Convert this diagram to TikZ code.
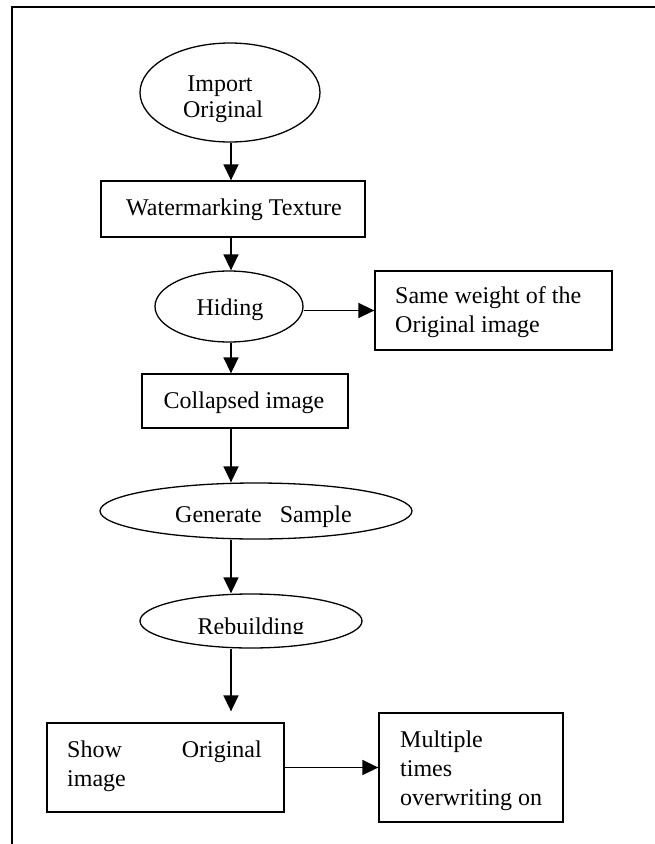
\documentclass[tikz,border=0pt]{standalone}
\usepackage{fontspec}
\setmainfont{Liberation Serif}
\usetikzlibrary{arrows.meta,shapes.geometric}
\begin{document}
\begin{tikzpicture}[x=1pt,y=-1pt,
  box/.style={draw, line width=1.3pt, inner sep=0pt},
  ell/.style={draw, ellipse, line width=1.3pt, inner sep=0pt},
  arr/.style={line width=1.6pt, -{Triangle[length=16pt,width=15pt]}},
  txt/.style={inner sep=0pt, font=\fontsize{24}{29}\selectfont}]
\useasboundingbox (0,0) rectangle (655,844);
\draw[line width=2pt] (11.5,844) -- (11.5,6.5) -- (655,6.5);
\coordinate (axis) at (231,0);
% shapes
\node[ell, minimum width=180pt, minimum height=99pt] (imp) at (230,92.5) {};
\node[box, minimum width=264pt, minimum height=56pt] (wat) at (233,209) {};
\node[ell, minimum width=148pt, minimum height=71pt] (hid) at (229,306.5) {};
\node[box, minimum width=237pt, minimum height=79pt] (same) at (493.5,310.5) {};
\node[box, minimum width=206pt, minimum height=54pt] (col) at (245,401) {};
\node[ell, minimum width=312pt, minimum height=56pt] (gen) at (256,511) {};
\node[ell, minimum width=222pt, minimum height=54pt] (reb) at (251,621) {};
\node[box, minimum width=237pt, minimum height=89pt] (show) at (165.5,767.5) {};
\node[box, minimum width=184pt, minimum height=109pt] (mul) at (471,767.5) {};
% texts
\node[txt, anchor=base] (timp1) at (220,91) {Import};
\node[txt, anchor=base] (timp2) at (223,117) {Original};
\node[txt, anchor=base] (twat) at (234,215) {Watermarking Texture};
\node[txt, anchor=base] (thid) at (230,315) {Hiding};
\node[txt, anchor=base west] (tsame1) at (395,303) {Same weight of the};
\node[txt, anchor=base west] (tsame2) at (395,332) {Original image};
\node[txt, anchor=base] (tcol) at (244,408) {Collapsed image};
\node[txt, anchor=base west] (tgen) at (175,522) {Generate\hspace{18pt}Sample};
\begin{scope}
\clip (0,0) rectangle (655,633.5);
\node[txt, anchor=base] (treb) at (251,634) {Rebuilding};
\end{scope}
\node[txt, anchor=base west] (tshow1) at (67,757) {Show};
\node[txt, anchor=base east] (tshow2) at (262,757) {Original};
\node[txt, anchor=base west] (tshow3) at (67,786) {image};
\node[txt, anchor=base west] (tmul1) at (400,747) {Multiple};
\node[txt, anchor=base west] (tmul2) at (400,776) {times};
\node[txt, anchor=base west] (tmul3) at (400,805) {overwriting on};
% connectors
\draw[arr] (imp.south -| axis) -- (wat.north -| axis);
\draw[arr] (wat.south -| axis) -- (hid.north -| axis);
\draw[arr] (hid.east |- same.west) -- (same.west);
\draw[arr] (hid.south -| axis) -- (col.north -| axis);
\draw[arr] (col.south -| axis) -- (gen.north -| axis);
\draw[arr] (gen.south -| axis) -- (reb.north -| axis);
\draw[arr, shorten >=11pt] (reb.south -| axis) -- (show.north -| axis);
\draw[arr] (show.east) -- (mul.west);
\end{tikzpicture}
\end{document}
